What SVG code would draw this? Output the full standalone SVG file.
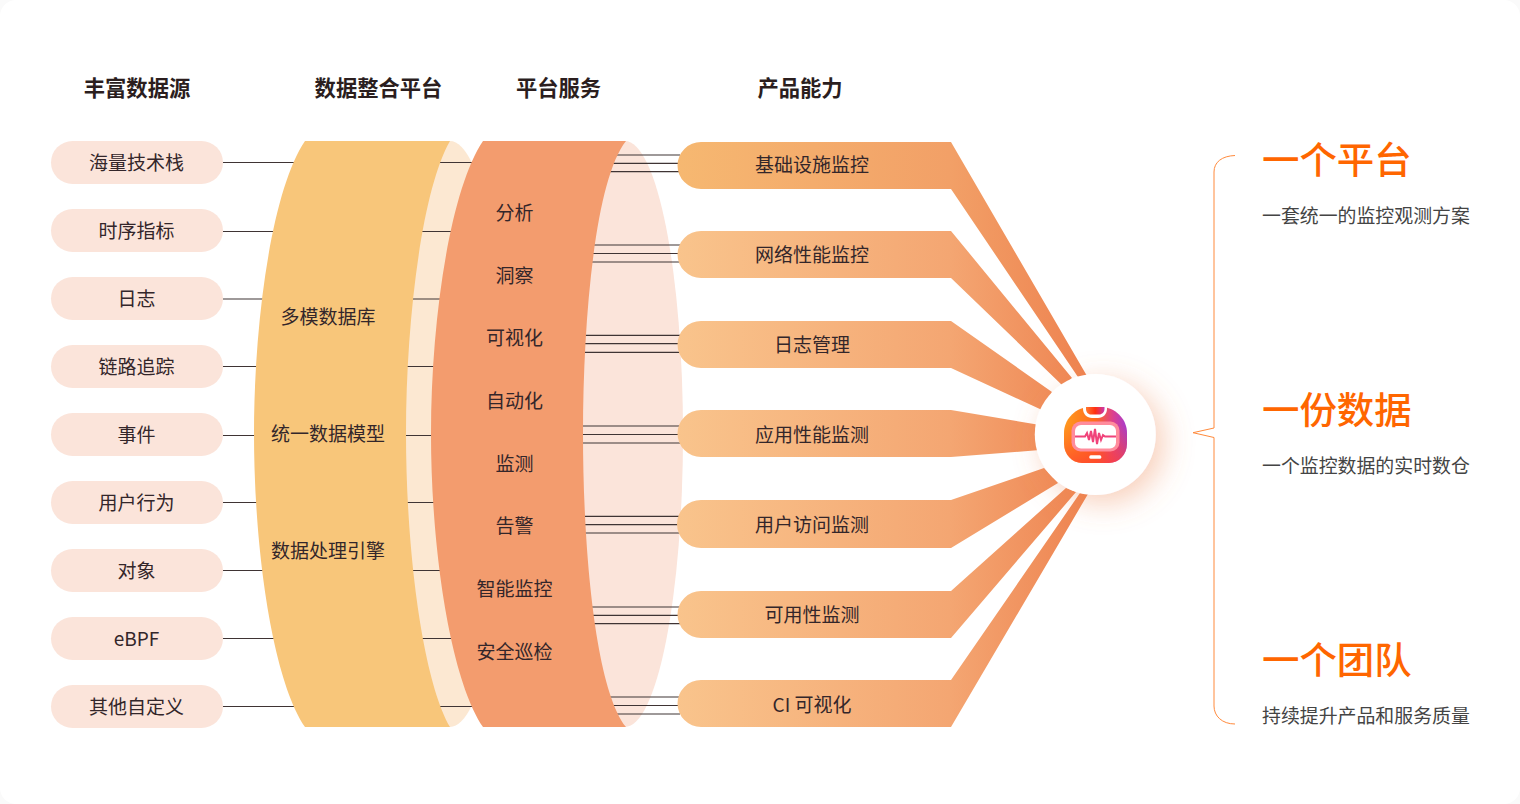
<svg xmlns="http://www.w3.org/2000/svg" width="1520" height="804" viewBox="0 0 1520 804">
<style>
text{font-family:"Noto Sans CJK SC","Noto Sans",sans-serif;font-size:19px;fill:#33262A;text-anchor:middle}
.h{font-size:21.300px;font-weight:700;fill:#2B1E1E}
.t{font-size:37.400px;font-weight:500;fill:#FF6600;text-anchor:start}
.s{font-size:18.900px;fill:#444;text-anchor:start}
.pill{fill:#FBE4DA}
.l{stroke:#3F3434;stroke-width:1.200;fill:none}
</style>
<defs>
<linearGradient id="g1" gradientUnits="userSpaceOnUse" x1="678" y1="0" x2="1090" y2="0"><stop offset="0" stop-color="#F6B871"/><stop offset=".66" stop-color="#F2A067"/><stop offset="1" stop-color="#EE8250"/></linearGradient>
<linearGradient id="g2" gradientUnits="userSpaceOnUse" x1="678" y1="0" x2="1090" y2="0"><stop offset="0" stop-color="#F9C48C"/><stop offset=".66" stop-color="#F4A672"/><stop offset="1" stop-color="#EE8350"/></linearGradient>
<linearGradient id="ib" x1="0" y1="0" x2="1" y2="0"><stop offset="0" stop-color="#FF9A1E"/><stop offset=".5" stop-color="#FF6A1E"/><stop offset=".78" stop-color="#DC4090"/><stop offset="1" stop-color="#A53CD0"/></linearGradient>
<linearGradient id="io" x1="0" y1="0" x2="0" y2="1"><stop offset=".3" stop-color="#FF4A20" stop-opacity="0"/><stop offset="1" stop-color="#FF4030" stop-opacity=".7"/></linearGradient>
<linearGradient id="it" x1="0" y1="0" x2="1" y2="0"><stop offset="0" stop-color="#FF7A30"/><stop offset=".5" stop-color="#FF3010"/><stop offset="1" stop-color="#C838B0"/></linearGradient>
<filter id="sh" x="-60%" y="-60%" width="220%" height="220%"><feDropShadow dx="8" dy="8" stdDeviation="15" flood-color="#EE8450" flood-opacity=".4"/></filter>
<path id="body" d="M1087,407 H1104 C1117,409 1127,420 1127,433 V444 C1127,454 1119,463 1109,463 H1082 C1072,463 1064,454 1064,444 V433 C1064,420 1074,409 1087,407 Z"/>
</defs>
<rect width="1520" height="804" fill="#FAFAFA"/>
<rect width="1520" height="804" rx="16" fill="#FFFFFF"/>

<g id="headers">
<text class="h" x="137" y="96">丰富数据源</text>
<text class="h" x="378.500" y="96">数据整合平台</text>
<text class="h" x="558.500" y="96">平台服务</text>
<text class="h" x="800" y="96">产品能力</text>
</g>

<ellipse id="platform-back" cx="450" cy="434" rx="58" ry="293" fill="#FCE8D2"/>
<ellipse id="services-back" cx="625" cy="434" rx="58" ry="293" fill="#FBE4DA"/>

<g id="connectors">
<path class="l" d="M223,162.500H490M223,231.500H490M223,299H490M223,366.500H490M223,435.500H490M223,502.500H490M223,570.500H490M223,638.500H490M223,706.500H490"/>
<path class="l" d="M590,155H680M590,163.300H680M590,171.700H680M580,245H680M580,253.500H680M580,262H680M580,335.300H680M580,343.700H680M580,352.300H680M580,426H680M580,434.500H680M580,443H680M580,516.300H680M580,524.700H680M580,533H680M580,607H680M580,615.300H680M580,623.700H680M590,697H680M590,705.500H680M590,714H680"/>
</g>

<g id="platform">
<path fill="#F8C67A" d="M305,141 H450 C422,190 406,320 406,434 C406,548 422,678 450,727 H305 C272,678 254,548 254,434 C254,320 272,190 305,141 Z"/>
<text x="328" y="323.500">多模数据库</text>
<text x="328" y="440.500">统一数据模型</text>
<text x="328" y="557.500">数据处理引擎</text>
</g>

<g id="services">
<path fill="#F39C6E" d="M483,141 H626 C595,180 583,320 583,434 C583,548 595,688 626,727 H483 C450,678 431,548 431,434 C431,320 450,190 483,141 Z"/>
<text x="514.500" y="219.500">分析</text>
<text x="514.500" y="282.500">洞察</text>
<text x="514.500" y="345">可视化</text>
<text x="514.500" y="408">自动化</text>
<text x="514.500" y="471">监测</text>
<text x="514.500" y="533">告警</text>
<text x="514.500" y="596">智能监控</text>
<text x="514.500" y="659">安全巡检</text>
</g>

<g id="source-1"><rect class="pill" x="51" y="141" width="172" height="43" rx="21.500"/><text x="136.500" y="170">海量技术栈</text></g>
<g id="source-2"><rect class="pill" x="51" y="209" width="172" height="43" rx="21.500"/><text x="136.500" y="238">时序指标</text></g>
<g id="source-3"><rect class="pill" x="51" y="277" width="172" height="43" rx="21.500"/><text x="136.500" y="306">日志</text></g>
<g id="source-4"><rect class="pill" x="51" y="345" width="172" height="43" rx="21.500"/><text x="136.500" y="374">链路追踪</text></g>
<g id="source-5"><rect class="pill" x="51" y="413" width="172" height="43" rx="21.500"/><text x="136.500" y="442">事件</text></g>
<g id="source-6"><rect class="pill" x="51" y="481" width="172" height="43" rx="21.500"/><text x="136.500" y="510">用户行为</text></g>
<g id="source-7"><rect class="pill" x="51" y="549" width="172" height="43" rx="21.500"/><text x="136.500" y="578">对象</text></g>
<g id="source-8"><rect class="pill" x="51" y="617" width="172" height="43" rx="21.500"/><text x="136.500" y="645.500">eBPF</text></g>
<g id="source-9"><rect class="pill" x="51" y="685" width="172" height="43" rx="21.500"/><text x="136.500" y="714">其他自定义</text></g>

<g id="product-1"><path fill="url(#g1)" d="M701,142 H951 L1087,376 L1080,380 L951,189 H701 A23.500,23.500 0 0 1 701,142 Z"/><text x="812" y="172">基础设施监控</text></g>
<g id="product-2"><path fill="url(#g2)" d="M701,231 H951 L1072,378 L1063,386 L951,278 H701 A23.500,23.500 0 0 1 701,231 Z"/><text x="812" y="262">网络性能监控</text></g>
<g id="product-3"><path fill="url(#g2)" d="M701,321 H951 L1052,392 L1042,410 L951,368 H701 A23.500,23.500 0 0 1 701,321 Z"/><text x="812" y="352">日志管理</text></g>
<g id="product-4"><path fill="url(#g2)" d="M701,410 H951 L1040,425 V450 L951,457 H701 A23.500,23.500 0 0 1 701,410 Z"/><text x="812" y="442">应用性能监测</text></g>
<g id="product-5"><path fill="url(#g2)" d="M701,500 H951 L1044,468 L1058,483 L951,548 H701 A24,24 0 0 1 701,500 Z"/><text x="812" y="532">用户访问监测</text></g>
<g id="product-6"><path fill="url(#g2)" d="M701,591 H951 L1066,488 L1076,492 L951,638 H701 A23.500,23.500 0 0 1 701,591 Z"/><text x="812" y="622">可用性监测</text></g>
<g id="product-7"><path fill="url(#g2)" d="M701,680 H951 L1080,493 L1088,494 L951,727 H701 A23.500,23.500 0 0 1 701,680 Z"/><text x="812" y="712">CI 可视化</text></g>

<g id="hub">
<circle cx="1095.300" cy="434.500" r="60.500" fill="#FFFFFF" filter="url(#sh)"/>
<use href="#body" fill="url(#ib)"/>
<use href="#body" fill="url(#io)"/>
<path d="M1083,406 H1107 V409 C1107,414 1103,418 1098,418 H1092 C1087,418 1083,414 1083,409 Z" fill="#FFFFFF"/>
<path d="M1086,407 H1104.500 V409 C1104.500,412 1102,414.500 1099,414.500 H1091 C1088,414.500 1086,412 1086,409 Z" fill="url(#it)"/>
<rect x="1071.500" y="421.500" width="48" height="30" rx="9" fill="#FF8C9C"/>
<rect x="1075" y="425" width="41" height="23.500" rx="6" fill="#FFFFFF"/>
<path d="M1075,436.500 H1085 L1087,433 L1089,440 L1091,431 L1093,442 L1095,429 L1097,444 L1099,433 L1101,440 L1103,435 L1105,436.500 H1116" fill="none" stroke="#F0437A" stroke-width="2"/>
<rect x="1089.300" y="455.300" width="12" height="3.500" rx="1.500" fill="#FFFFFF"/>
</g>

<path id="bracket" d="M1235,155.500 C1222,156 1214,162 1214,172 V428 L1193,432.700 L1214,437.500 V706 C1214,716 1222,724 1235,724" fill="none" stroke="#FF8A3C" stroke-width="1"/>

<g id="claim-1"><text class="t" x="1262" y="173.500">一个平台</text><text class="s" x="1262" y="223">一套统一的监控观测方案</text></g>
<g id="claim-2"><text class="t" x="1262" y="423.500">一份数据</text><text class="s" x="1262" y="473">一个监控数据的实时数仓</text></g>
<g id="claim-3"><text class="t" x="1262" y="673.500">一个团队</text><text class="s" x="1262" y="723">持续提升产品和服务质量</text></g>
</svg>
